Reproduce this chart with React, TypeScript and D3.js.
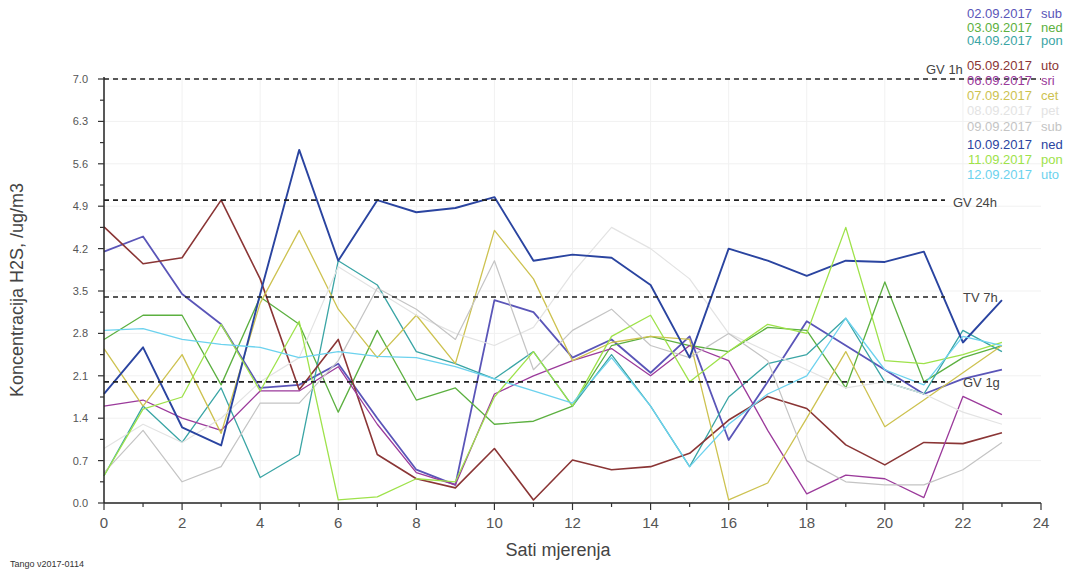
import React from "react";
import * as d3 from "d3";

const hours = [0, 1, 2, 3, 4, 5, 6, 7, 8, 9, 10, 11, 12, 13, 14, 15, 16, 17, 18, 19, 20, 21, 22, 23];

const s0209 = [4.15, 4.4, 3.45, 2.95, 1.9, 1.95, 2.3, 1.4, 0.55, 0.3, 3.35, 3.15, 2.4, 2.7, 2.15, 2.75, 1.04, 2.0, 3.0, 2.6, 2.2, 1.8, 2.05, 2.2];
const s0309 = [2.7, 3.1, 3.1, 1.95, 3.4, 2.95, 1.5, 2.85, 1.7, 1.9, 1.3, 1.35, 1.6, 2.6, 2.75, 2.6, 2.5, 2.9, 2.85, 1.9, 3.65, 2.0, 2.4, 2.6];
const s0409 = [0.45, 1.6, 1.0, 1.9, 0.42, 0.8, 4.0, 3.6, 2.5, 2.3, 2.05, 2.5, 1.6, 2.45, 1.6, 0.6, 1.75, 2.3, 2.45, 3.05, 2.0, 1.8, 2.85, 2.5];
const s0509 = [4.56, 3.95, 4.05, 5.0, 3.7, 1.87, 2.7, 0.8, 0.4, 0.25, 0.9, 0.05, 0.71, 0.55, 0.6, 0.82, 1.37, 1.76, 1.56, 0.96, 0.63, 1.0, 0.98, 1.16];
const s0609 = [1.6, 1.7, 1.4, 1.2, 1.85, 1.85, 2.25, 1.3, 0.5, 0.3, 1.8, 2.1, 2.35, 2.55, 2.1, 2.6, 2.35, 1.2, 0.15, 0.46, 0.4, 0.09, 1.76, 1.46];
const s0709 = [2.55, 1.6, 2.45, 1.15, 3.3, 4.5, 3.2, 2.4, 3.1, 2.3, 4.5, 3.7, 2.35, 2.65, 2.75, 2.7, 0.05, 0.33, 1.4, 2.5, 1.26, 1.7, 2.15, 2.6];
const s0809 = [0.9, 1.3, 1.0, 1.4, 2.0, 2.4, 3.9, 3.5, 3.1, 2.8, 2.6, 2.9, 3.8, 4.55, 4.2, 3.7, 2.8, 2.5, 2.2, 1.9, 2.0, 1.8, 1.5, 1.3];
const s0909 = [0.5, 1.2, 0.35, 0.6, 1.65, 1.65, 2.35, 3.55, 3.2, 2.7, 4.0, 2.2, 2.85, 3.2, 2.6, 2.4, 2.8, 2.35, 0.7, 0.35, 0.3, 0.3, 0.55, 1.0];
const s1009 = [1.8, 2.57, 1.25, 0.95, 3.45, 5.83, 4.0, 5.0, 4.8, 4.87, 5.05, 4.0, 4.1, 4.05, 3.6, 2.4, 4.2, 4.0, 3.75, 4.0, 3.98, 4.15, 2.65, 3.35];
const s1109 = [0.45, 1.55, 1.75, 2.95, 1.85, 3.0, 0.05, 0.1, 0.4, 0.35, 1.75, 2.5, 1.6, 2.75, 3.1, 2.0, 2.5, 2.95, 2.8, 4.55, 2.35, 2.3, 2.45, 2.65];
const s1209 = [2.85, 2.88, 2.7, 2.62, 2.57, 2.4, 2.5, 2.42, 2.4, 2.25, 2.05, 1.85, 1.65, 2.4, 1.6, 0.6, 1.3, 1.8, 2.1, 3.05, 2.2, 1.95, 2.75, 2.6];

const seriesDates = ["02.09.2017", "03.09.2017", "04.09.2017", "05.09.2017", "06.09.2017", "07.09.2017", "08.09.2017", "09.09.2017", "10.09.2017", "11.09.2017", "12.09.2017"];
const seriesDays = ["sub", "ned", "pon", "uto", "sri", "cet", "pet", "sub", "ned", "pon", "uto"];
const seriesValues = [s0209, s0309, s0409, s0509, s0609, s0709, s0809, s0909, s1009, s1109, s1209];

const yTicks = [0, 0.7, 1.4, 2.1, 2.8, 3.5, 4.2, 4.9, 5.6, 6.3, 7.0];
const xTicks = [0, 2, 4, 6, 8, 10, 12, 14, 16, 18, 20, 22, 24];
const limitValues = [7.0, 5.0, 3.4, 2.0];
const limitLabels = ["GV 1h", "GV 24h", "TV 7h", "GV 1g"];

const colors = ["#5a55b8", "#5cb040", "#3aa5a5", "#8a3535", "#9b3a9b", "#cdc250", "#e3e3e3", "#c4c4c4", "#2a44a0", "#9ee24a", "#6cd2ee"];
const widths = [1.8, 1.3, 1.3, 1.6, 1.3, 1.3, 1.2, 1.2, 1.9, 1.3, 1.3];
const legendY = [18, 32, 45, 70, 85, 100, 115, 131, 149, 164, 179];

export default function App() {
  const x = d3.scaleLinear().domain([0, 24]).range([104, 1041]);
  const y = d3.scaleLinear().domain([0, 7]).range([503, 79]);
  const line = d3
    .line<number>()
    .x((_, i) => x(hours[i]))
    .y((d) => y(d));
  const minorY = d3.range(0, 7.01, 0.35);
  const minorX = d3.range(0, 24.01, 1);
  const font = "'Liberation Sans', Arial, sans-serif";
  const limitEnd = [1041, 945, 945, 945];
  const labelPos = [
    [926, 74],
    [953, 207],
    [963, 302],
    [963, 387],
  ];

  return (
    <svg
      width={1072}
      height={577}
      style={{ position: "absolute", left: 0, top: 0, background: "#fff" }}
      fontFamily={font}
    >
      <rect x={0} y={0} width={1072} height={577} fill="#fff" />
      {xTicks.slice(1, -1).map((t) => (
        <line key={"gx" + t} x1={x(t)} x2={x(t)} y1={y(7)} y2={y(0)} stroke="#f1f1f1" />
      ))}
      {yTicks.slice(1).map((t) => (
        <line key={"gy" + t} x1={x(0)} x2={x(24)} y1={y(t)} y2={y(t)} stroke="#f1f1f1" />
      ))}
      {seriesValues.map((vals, i) => (
        <path
          key={"s" + i}
          d={line(vals) || ""}
          fill="none"
          stroke={colors[i]}
          strokeWidth={widths[i]}
          strokeLinejoin="round"
        />
      ))}
      {limitValues.map((v, i) => (
        <line
          key={"l" + i}
          x1={x(0)}
          x2={limitEnd[i]}
          y1={y(v)}
          y2={y(v)}
          stroke="#222"
          strokeWidth={1.6}
          strokeDasharray="5,4"
        />
      ))}
      <line x1={x(0)} x2={x(0)} y1={y(7) - 2} y2={y(0)} stroke="#222" strokeWidth={1.5} />
      <line x1={x(0)} x2={x(24)} y1={y(0)} y2={y(0)} stroke="#222" strokeWidth={1.5} />
      {minorY.map((t, i) => (
        <line
          key={"ty" + i}
          x1={x(0) - (i % 2 === 0 ? 6 : 4)}
          x2={x(0)}
          y1={y(t)}
          y2={y(t)}
          stroke="#333"
          strokeWidth={1.2}
        />
      ))}
      {minorX.map((t) => (
        <line
          key={"tx" + t}
          x1={x(t)}
          x2={x(t)}
          y1={y(0)}
          y2={y(0) + (t % 2 === 0 ? 7 : 4)}
          stroke="#333"
          strokeWidth={1.2}
        />
      ))}
      {yTicks.map((t) => (
        <text key={"yl" + t} x={88} y={y(t) + 4} textAnchor="end" fontSize={11} fill="#555">
          {t.toFixed(1)}
        </text>
      ))}
      {xTicks.map((t) => (
        <text key={"xl" + t} x={x(t)} y={528} textAnchor="middle" fontSize={15} fill="#555">
          {t}
        </text>
      ))}
      <text x={558} y={556} textAnchor="middle" fontSize={18} fill="#444">
        Sati mjerenja
      </text>
      <text transform="translate(23,290) rotate(-90)" textAnchor="middle" fontSize={18} fill="#444">
        Koncentracija H2S, /ug/m3
      </text>
      <text x={10} y={567} fontSize={9} fill="#333">
        Tango ν2017-0114
      </text>
      {limitLabels.map((l, i) => (
        <text key={"ll" + i} x={labelPos[i][0]} y={labelPos[i][1]} fontSize={13} fill="#444">
          {l}
        </text>
      ))}
      {seriesDates.map((d, i) => (
        <g key={"lg" + i}>
          <text x={1032} y={legendY[i]} textAnchor="end" fontSize={13} fill={colors[i]}>
            {d}
          </text>
          <text x={1041} y={legendY[i]} fontSize={13} fill={colors[i]}>
            {seriesDays[i]}
          </text>
        </g>
      ))}
    </svg>
  );
}
